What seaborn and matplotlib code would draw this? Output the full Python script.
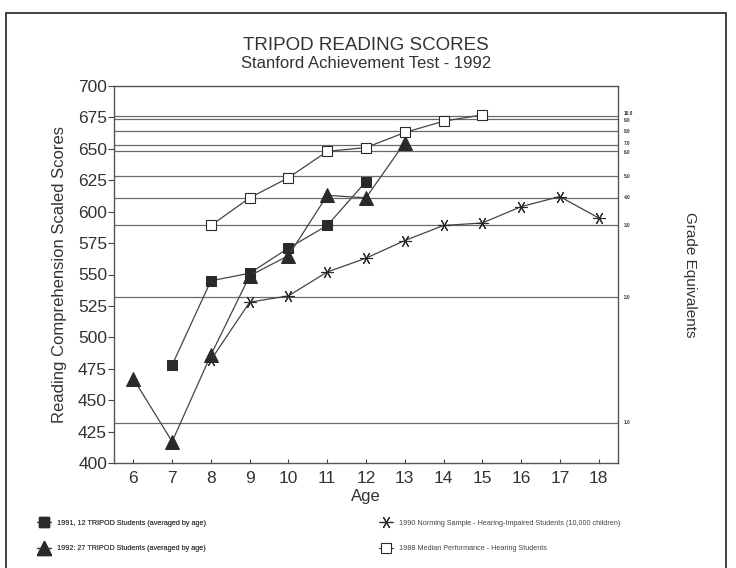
import matplotlib
matplotlib.use("Agg")
import matplotlib.pyplot as plt
from matplotlib.lines import Line2D
from matplotlib.patches import Rectangle
import seaborn as sns
import pandas as pd

ages_1991 = [7, 8, 9, 10, 11, 12]
scores_1991 = [478, 545, 551, 571, 589, 624]

ages_1992 = [6, 7, 8, 9, 10, 11, 12, 13]
scores_1992 = [467, 417, 486, 549, 565, 613, 611, 655]

ages_1990 = [8, 9, 10, 11, 12, 13, 14, 15, 16, 17, 18]
scores_1990 = [482, 528, 533, 552, 563, 577, 589, 591, 604, 612, 595]

ages_1988 = [8, 9, 10, 11, 12, 13, 14, 15]
scores_1988 = [589, 611, 627, 648, 651, 663, 672, 677]

grade_labels = ["1.0", "2.0", "3.0", "4.0", "5.0", "6.0", "7.0", "8.0", "9.0", "10.0"]
grade_scores = [432, 532, 589, 611, 628, 648.5, 653, 664, 673.7, 676.4]

series_names = [
    "1991, 12 TRIPOD Students (averaged by age)",
    "1992: 27 TRIPOD Students (averaged by age)",
    "1990 Norming Sample - Hearing-Impaired Students (10,000 children)",
    "1988 Median Performance - Hearing Students",
]

frames = []
for name, ages, scores in zip(series_names,
                              [ages_1991, ages_1992, ages_1990, ages_1988],
                              [scores_1991, scores_1992, scores_1990, scores_1988]):
    frames.append(pd.DataFrame({"series": name, "age": ages, "score": scores}))
df = pd.concat(frames, ignore_index=True)

sns.set_style("ticks")
plt.rcParams["font.family"] = ["Liberation Sans", "DejaVu Sans"]

fig = plt.figure(figsize=(7.36, 5.68), dpi=100)
ax = fig.add_axes([114 / 736, 1 - 463 / 568, 504 / 736, 377 / 568])

ink = "#2a2a2a"
styles = {
    series_names[0]: dict(marker="s", markersize=6.5, markerfacecolor=ink, markeredgecolor=ink),
    series_names[1]: dict(marker="^", markersize=9.5, markerfacecolor=ink, markeredgecolor=ink),
    series_names[2]: dict(marker=(6, 2, 90), markersize=9, markerfacecolor="none",
                          markeredgecolor=ink, markeredgewidth=0.8),
    series_names[3]: dict(marker="s", markersize=7.5, markerfacecolor="white",
                          markeredgecolor=ink, markeredgewidth=0.8),
}

# grade equivalent reference lines (labels nudged apart where lines crowd)
nudge = {"10.0": 1.6, "9.0": -1.2, "7.0": 1.3, "6.0": -1.3}
for g, s in zip(grade_labels, grade_scores):
    ax.axhline(s, color="#6a6a6a", lw=0.9, zorder=1)
    ax.annotate(g, xy=(1.012, s), xycoords=ax.get_yaxis_transform(),
                xytext=(0, nudge.get(g, 0)), textcoords="offset points",
                fontsize=3.4, fontweight="bold", va="center", ha="left",
                color="#333333")

for name in series_names:
    sub = df[df["series"] == name]
    sns.lineplot(data=sub, x="age", y="score", ax=ax, color="#444444", lw=0.9,
                 zorder=3, legend=False, **styles[name])

ax.set_xlim(5.5, 18.5)
ax.set_ylim(400, 700)
ax.set_xticks(range(6, 19))
ax.set_yticks(range(400, 701, 25))
ax.tick_params(axis="y", direction="out", length=4, labelsize=12.5, colors="#444444",
               labelcolor="#333333", pad=1)
ax.tick_params(axis="x", direction="in", length=3, labelsize=12.5, colors="#444444",
               labelcolor="#333333", pad=6)
for sp in ax.spines.values():
    sp.set_visible(True)
    sp.set_color("#555555")
    sp.set_linewidth(1.0)

ax.set_xlabel("Age", fontsize=12, color="#333333", labelpad=2)
ax.set_ylabel("Reading Comprehension Scaled Scores", fontsize=12, color="#333333",
              labelpad=8)

fig.text(690 / 736, 1 - 275 / 568, "Grade Equivalents", rotation=270, fontsize=11,
         color="#333333", ha="center", va="center")

fig.text(366 / 736, 1 - 45 / 568, "TRIPOD READING SCORES", fontsize=13.5,
         color="#333333", ha="center", va="center")
fig.text(366 / 736, 1 - 64 / 568, "Stanford Achievement Test - 1992", fontsize=12,
         color="#333333", ha="center", va="center")

# legend in two columns under the chart
handles = [Line2D([0], [0], color="#444444", lw=0.9, **styles[n]) for n in series_names]
leg1 = fig.legend(handles[:2], series_names[:2], loc="center left",
                  bbox_to_anchor=(30 / 736, 1 - 536 / 568), frameon=False,
                  fontsize=5.2, labelspacing=2.6, handlelength=2.0, handletextpad=0.8,
                  labelcolor="#444444")
fig.legend(handles[2:], series_names[2:], loc="center left",
           bbox_to_anchor=(372 / 736, 1 - 536 / 568), frameon=False,
           fontsize=5.2, labelspacing=2.6, handlelength=2.0, handletextpad=0.8,
           labelcolor="#444444")
fig.add_artist(leg1)

# page frame
fig.add_artist(Rectangle((6 / 736, -0.02), 720 / 736, 1 - 13 / 568 + 0.02,
                         transform=fig.transFigure, fill=False, lw=1.3,
                         edgecolor="#333333"))

fig.savefig("out.png", dpi=100, facecolor="white")
